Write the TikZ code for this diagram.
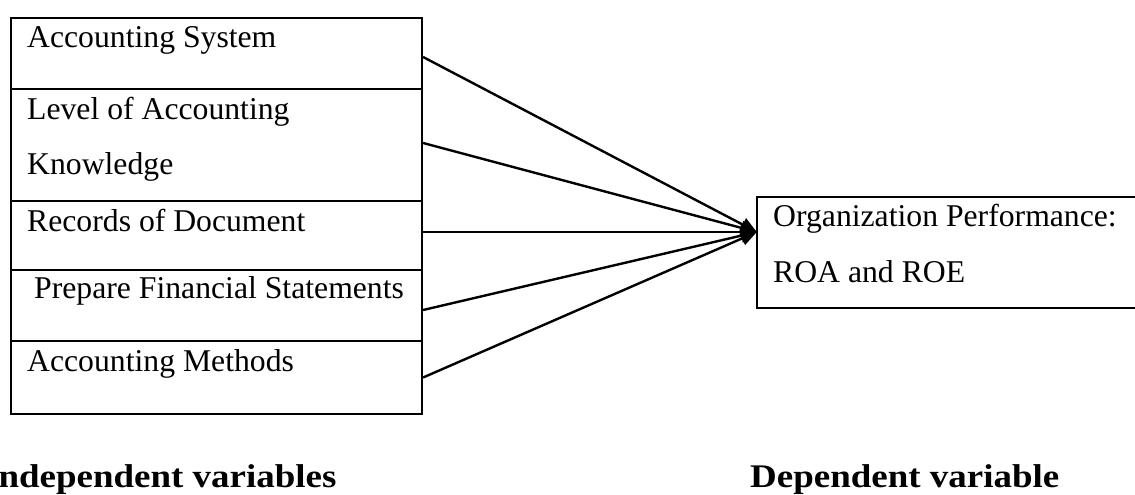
\documentclass[tikz,border=0pt]{standalone}
\usepackage{fontspec}
\setmainfont{Liberation Serif}
\usetikzlibrary{arrows.meta}
\begin{document}
\begin{tikzpicture}[x=1pt,y=-1pt,
  box/.style={draw,line width=2.2pt,inner sep=0pt,minimum width=411pt},
  lbl/.style={anchor=base west,inner sep=0pt,font=\fontsize{31.7}{38}\selectfont},
  head/.style={anchor=base west,inner sep=0pt,font=\fontsize{33}{39}\selectfont\bfseries,xscale=1.12,transform shape},
  link/.style={line width=2.4pt,-{Triangle[length=16pt,width=14pt]}}]
\useasboundingbox (0,0) rectangle (1135,495);
\clip (0,0) rectangle (1135,495);
% left stacked boxes
\node[box,minimum height=71pt]  (a1) at (216.5,53.5) {};
\node[box,minimum height=112pt] (a2) at (216.5,145) {};
\node[box,minimum height=69pt]  (a3) at (216.5,235.5) {};
\node[box,minimum height=71pt]  (a4) at (216.5,305.5) {};
\node[box,minimum height=73pt]  (a5) at (216.5,377.5) {};
% right box (open to the right edge)
\node[inner sep=0pt,minimum width=388pt,minimum height=111pt] (perf) at (951,252.5) {};
\draw[line width=2.2pt] (perf.north east) -- (perf.north west) -- (perf.south west) -- (perf.south east);
\coordinate (tip) at ([yshift=20.5pt]perf.west);
% texts
\node[lbl] (t1)  at (27,48)  {Accounting System};
\node[lbl] (t2a) at (27,119) {Level of Accounting};
\node[lbl] (t2b) at (27,174) {Knowledge};
\node[lbl] (t3)  at (27,231) {Records of Document};
\node[lbl] (t4)  at (34,298) {Prepare Financial Statements};
\node[lbl] (t5)  at (27,371) {Accounting Methods};
\node[lbl] (p1)  at (773,226) {Organization Performance:};
\node[lbl] (p2)  at (773,282) {ROA and ROE};
\node[head] (h1) at (-16,487) {Independent variables};
\node[head] (h2) at (750,487) {Dependent variable};
% connectors
\draw[link] ([yshift=-3.5pt]a1.east) -- (tip);
\draw[link] ([yshift=2pt]a2.east) -- (tip);
\draw[link] ([yshift=3.5pt]a3.east) -- (tip);
\draw[link] ([yshift=-4.5pt]a4.east) -- (tip);
\draw[link] (a5.east) -- (tip);
\end{tikzpicture}
\end{document}
